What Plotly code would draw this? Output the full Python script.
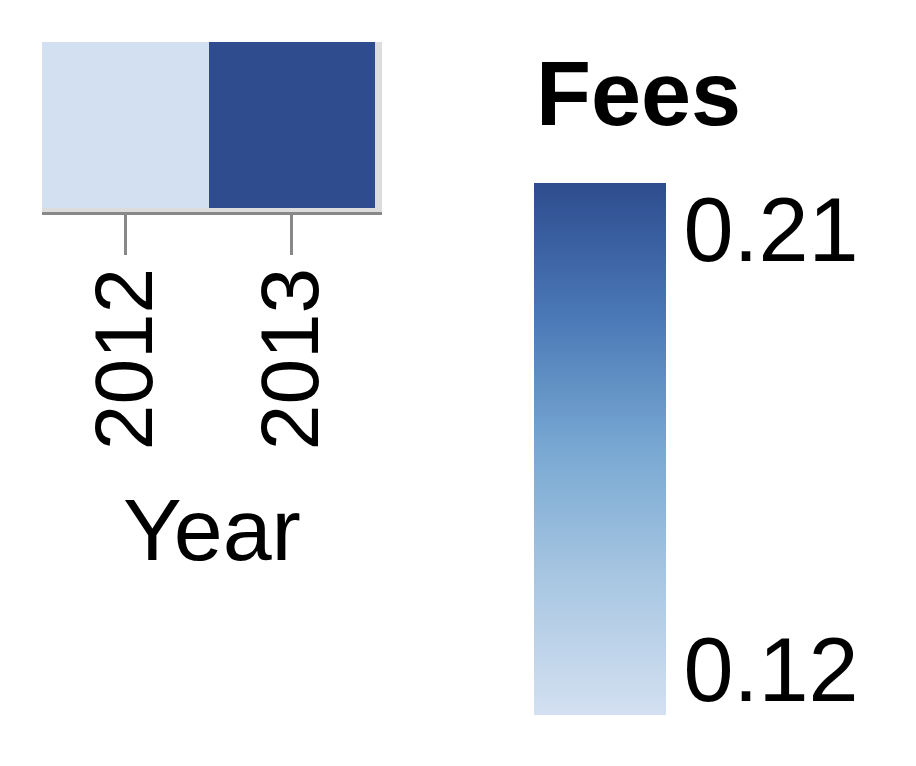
import plotly.graph_objects as go

# Data
years = ["2012", "2013"]
fees = [0.12, 0.21]
legend_title = "Fees"
x_title = "Year"
bar_ticks = ["0.21", "0.12"]

colorscale = [
    [0.0, "#d3e0f1"],
    [0.25, "#a9c7e2"],
    [0.5, "#78a8d2"],
    [0.75, "#4a78b6"],
    [1.0, "#2e4c8e"],
]

zmin, zmax = min(fees), max(fees)
font_family = "Liberation Sans, Arial, sans-serif"

# page body has an 8px margin; figure drawn 8px smaller and shifted
W, H = 908, 758
ML, MT, MR, MB = 34, 34, 0, 51
gw, gh = W - ML - MR, H - MT - MB
plot_bottom = 204          # container px of the heatmap bottom edge
bar_bottom = H - MB        # container px of colour bar bottom
bar_len = 532
label_inset = 46           # legend labels sit inside the gradient ends


def px_to_paper_x(px):
    return (px - ML) / gw


def px_to_paper_y(py):
    return (H - MB - py) / gh


inset_val = label_inset / bar_len * (zmax - zmin)

fig = go.Figure()
fig.add_trace(go.Heatmap(
    x=years, y=[""], z=[fees],
    colorscale=colorscale, zmin=zmin, zmax=zmax,
    hoverinfo="skip",
    colorbar=dict(
        thicknessmode="pixels", thickness=132,
        lenmode="pixels", len=bar_len,
        x=px_to_paper_x(526), xanchor="left", xpad=0,
        y=0, yanchor="bottom", ypad=0,
        outlinewidth=0,
        ticks="outside", ticklen=0, tickcolor="rgba(0,0,0,0)",
        tickfont=dict(size=90, color="black", family=font_family),
        tickvals=[zmax - inset_val, zmin + inset_val],
        ticktext=bar_ticks,
    ),
))

fig.add_annotation(
    text="<b>" + legend_title + "</b>",
    xref="paper", yref="paper",
    x=px_to_paper_x(526), y=px_to_paper_y(86),
    xanchor="left", yanchor="middle", showarrow=False,
    font=dict(size=90, color="black", family=font_family),
)

fig.update_layout(
    width=W, height=H,
    margin=dict(l=ML, r=MR, t=MT, b=MB, autoexpand=False),
    paper_bgcolor="white",
    plot_bgcolor="#dcdcdc",
    font=dict(family=font_family, color="black"),
    xaxis=dict(
        domain=[0, 340 / gw],
        range=[-0.5, -0.5 + 340 / 166.5],
        showline=True, linecolor="#888888", linewidth=3,
        ticks="outside", ticklen=40, tickwidth=3, tickcolor="#888888",
        tickangle=-90, tickfont=dict(size=82),
        ticklabelstandoff=-20,
        showgrid=False, zeroline=False, automargin=False,
        title=dict(text=x_title, font=dict(size=88), standoff=50),
    ),
    yaxis=dict(
        domain=[(bar_bottom - plot_bottom) / gh, 1],
        range=[-0.5 - 4 / 166, 0.5],
        showticklabels=False, showgrid=False, zeroline=False, ticks="",
        automargin=False,
    ),
)

fig.write_html("out.html")
